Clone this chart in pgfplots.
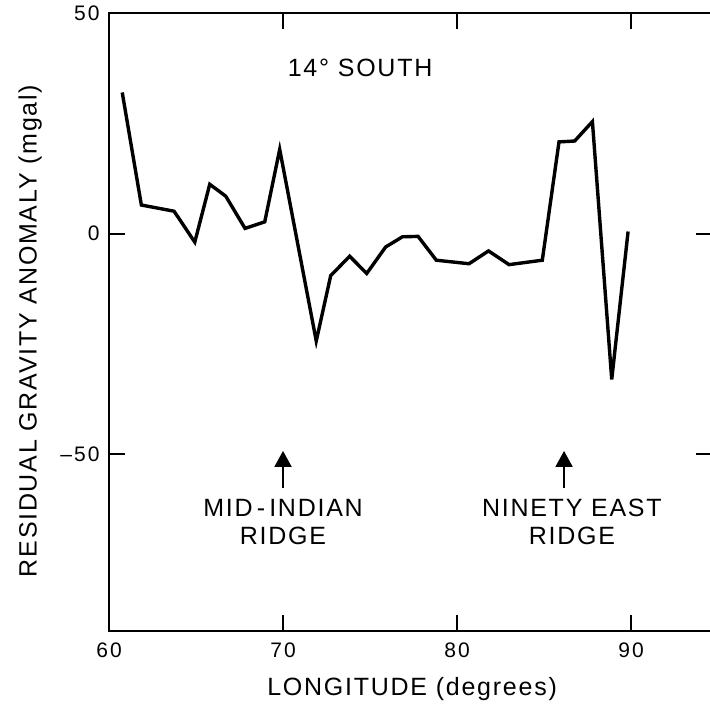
\documentclass[border=0pt]{standalone}
\usepackage{fontspec}
\setmainfont{Liberation Sans}
\newfontfamily\lab[LetterSpace=7]{Liberation Sans}
\newfontfamily\tlab[LetterSpace=10]{Liberation Sans}
\usepackage{pgfplots}
\pgfplotsset{compat=1.18}
\usetikzlibrary{arrows.meta}

\begin{document}
\begin{tikzpicture}
\begin{axis}[
  scale only axis, width=301.3pt, height=309pt,
  xmin=60, xmax=94.63, ymin=-90, ymax=50,
  xtick={60,70,80,90}, ytick={-50,0,50},
  xticklabels={60,70,80,90}, yticklabels={\textendash50,0,50},
  axis line style={line width=1.1pt},
  tick style={line width=1pt, black},
  major tick length=8pt,
  xticklabel style={font=\tlab\fontsize{10.5}{12}\selectfont, anchor=north, inner sep=0pt, yshift=-5.5pt},
  yticklabel style={font=\tlab\fontsize{10.5}{12}\selectfont, anchor=east, inner sep=0pt, xshift=-4.5pt},
  xlabel={LONGITUDE (degrees)},
  ylabel={RESIDUAL GRAVITY ANOMALY (mgal)},
  xlabel style={font=\lab\fontsize{12.5}{14}\selectfont, at={(axis description cs:0.503,-0.094)}, anchor=center},
  ylabel style={font=\lab\fontsize{12.5}{14}\selectfont, at={(axis description cs:-0.1310,0.4854)}, anchor=center},
  clip=false,
]
\addplot[black, line width=1.7pt, mark=none] coordinates {
(60.76,32.0) (61.86,6.5) (63.74,5.1) (64.93,-1.9) (65.79,11.2) (66.71,8.5)
(67.82,1.2) (68.95,2.7) (69.81,19.1) (71.91,-24.3) (72.74,-9.5) (73.83,-5.1)
(74.81,-9.0) (75.90,-3.0) (76.86,-0.7) (77.76,-0.6) (78.81,-6.0) (80.69,-6.8)
(81.81,-3.9) (82.99,-7.0) (84.90,-6.0) (85.86,20.8) (86.76,21.0) (87.78,25.4)
(88.89,-33.0) (89.83,0.5)
};
\node[font=\lab\fontsize{12.5}{14}\selectfont] at (axis cs:74.43,37.6) {14° SOUTH};
\draw[line width=1pt, -{Triangle[width=8.5pt,length=8pt]}] (axis cs:70.0,-57.6) -- (axis cs:70.0,-49.2);
\draw[line width=1pt, -{Triangle[width=8.5pt,length=8pt]}] (axis cs:86.15,-57.6) -- (axis cs:86.15,-49.2);
\node[font=\lab\fontsize{12.5}{14}\selectfont, align=center] at (axis cs:70.0,-65.3) {MID\,-\,INDIAN\\RIDGE};
\node[font=\lab\fontsize{12.5}{14}\selectfont, align=center] at (axis cs:86.6,-65.3) {NINETY EAST\\RIDGE};
\end{axis}
\pgfresetboundingbox
\path[use as bounding box] ([xshift=-54.5pt,yshift=-38pt]current axis.south west) rectangle ([xshift=-0.8pt,yshift=6.5pt]current axis.north east);
\end{tikzpicture}
\end{document}
